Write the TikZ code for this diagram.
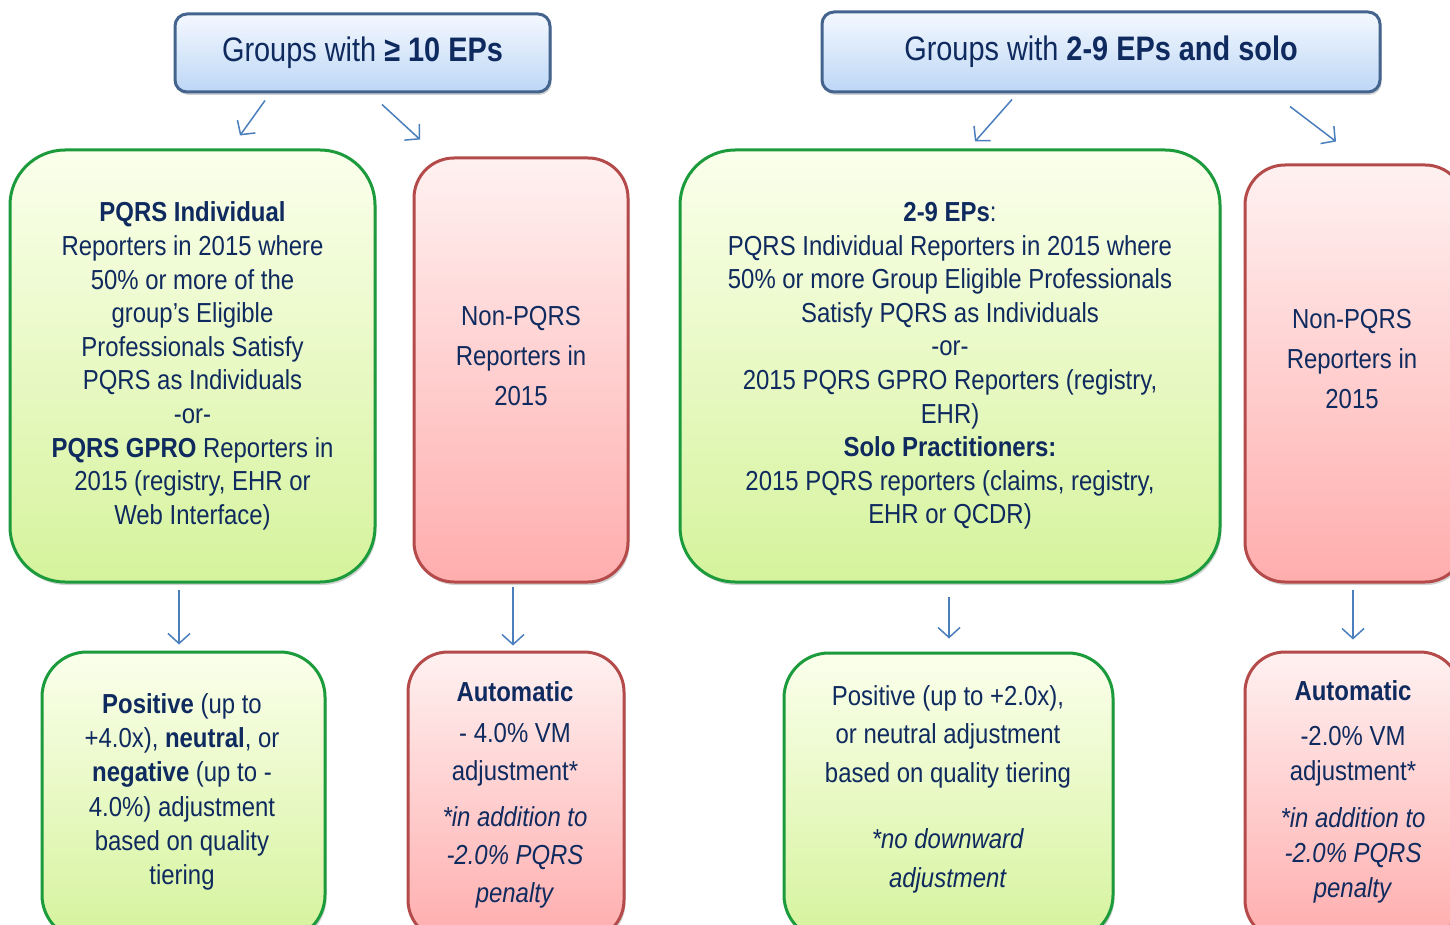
\documentclass[tikz,border=0pt]{standalone}
\usepackage{fontspec}
\setmainfont{Liberation Sans}[FakeStretch=0.87]
\newfontfamily\headfont{Liberation Sans}[FakeStretch=0.85]
\usetikzlibrary{arrows.meta,shadows}
\definecolor{Navy}{HTML}{0F2A5E}
\definecolor{HeadTop}{HTML}{F4F8FE}
\definecolor{HeadBot}{HTML}{BDD7F6}
\definecolor{HeadLine}{HTML}{44648E}
\definecolor{LeafTop}{HTML}{FBFFEC}
\definecolor{LeafBot}{HTML}{D5F39C}
\definecolor{LeafLine}{HTML}{1C9B3C}
\definecolor{RoseTop}{HTML}{FFF1F1}
\definecolor{RoseBot}{HTML}{FFADAD}
\definecolor{RoseLine}{HTML}{B54A4A}
\definecolor{Wire}{HTML}{4A7EBC}
\tikzset{
  boxbase/.style={draw,line width=3pt,inner sep=0pt,
    drop shadow={shadow xshift=1.5pt,shadow yshift=-3pt,opacity=.35}},
  headbox/.style={boxbase,rounded corners=12pt,draw=HeadLine,
    top color=HeadTop,bottom color=HeadBot,text=Navy,
    font=\headfont\fontsize{34}{40}\selectfont},
  leafbox/.style={boxbase,draw=LeafLine,top color=LeafTop,bottom color=LeafBot,
    text=Navy,align=center},
  rosebox/.style={boxbase,draw=RoseLine,top color=RoseTop,bottom color=RoseBot},
  txt/.style={text=Navy,align=center},
  link/.style={draw=Wire,line width=1.5pt,-{Straight Barb[length=10pt,width=22pt]}}
}
\newcommand{\bodyfont}[1]{\fontsize{27.5}{#1}\selectfont}

\begin{document}
\begin{tikzpicture}[x=1pt,y=-1pt]
  \path[fill=white,use as bounding box] (0,0) rectangle (1450,925);
  \clip (0,0) rectangle (1450,925);

  % headers
  \node[headbox,minimum width=375pt,minimum height=78pt] (h1) at (362.5,53)
    {Groups with \textbf{≥ 10 EPs}};
  \node[headbox,minimum width=558pt,minimum height=80pt] (h2) at (1101,52)
    {Groups with \textbf{2-9 EPs and solo}};

  % middle row
  \node[leafbox,rounded corners=55pt,minimum width=365pt,minimum height=432pt,
        font=\bodyfont{33.6}] (g1) at (192.5,366)
    {\textbf{PQRS Individual}\\ Reporters in 2015 where\\ 50\% or more of the\\
     group’s Eligible\\ Professionals Satisfy\\ PQRS as Individuals\\ -or-\\
     \textbf{PQRS GPRO} Reporters in\\ 2015 (registry, EHR or\\ Web Interface)};
  \node[rosebox,rounded corners=40pt,minimum width=214pt,minimum height=424pt] (r1) at (521,370) {};
  \node[txt,font=\bodyfont{40}] (r1t) at (521,356) {Non-PQRS\\ Reporters in\\ 2015};
  \node[leafbox,rounded corners=55pt,minimum width=540pt,minimum height=432pt,
        font=\bodyfont{33.6}] (g2) at (950,366)
    {\textbf{2-9 EPs}:\\ PQRS Individual Reporters in 2015 where\\
     50\% or more Group Eligible Professionals\\ Satisfy PQRS as Individuals\\ -or-\\
     2015 PQRS GPRO Reporters (registry,\\ EHR)\\ \textbf{Solo Practitioners:}\\
     2015 PQRS reporters (claims, registry,\\ EHR or QCDR)};
  \node[rosebox,rounded corners=40pt,minimum width=220pt,minimum height=417pt] (r2) at (1355,373.5) {};
  \node[txt,font=\bodyfont{40}] (r2t) at (1352,359) {Non-PQRS\\ Reporters in\\ 2015};

  % bottom row
  \node[leafbox,rounded corners=45pt,minimum width=283pt,minimum height=288pt] (b1) at (183.5,796) {};
  \node[txt,font=\bodyfont{34.3}] (b1t) at (182,792)
    {\textbf{Positive} (up to\\ +4.0x), \textbf{neutral}, or\\ \textbf{negative} (up to -\\
     4.0\%) adjustment\\ based on quality\\ tiering};
  \node[rosebox,rounded corners=40pt,minimum width=216pt,minimum height=288pt] (b2) at (516,796) {};
  \node[txt,font=\bodyfont{38}] (b2t) at (515,795)
    {\textbf{Automatic}\\[3pt] - 4.0\% VM\\ adjustment*\\[8pt] \textit{*in addition to}\\
     \textit{-2.0\% PQRS}\\ \textit{penalty}};
  \node[leafbox,rounded corners=45pt,minimum width=329pt,minimum height=287pt] (b3) at (948.5,796.5) {};
  \node[txt,font=\bodyfont{38.5}] (b3t) at (948,789)
    {Positive (up to +2.0x),\\ or neutral adjustment\\ based on quality tiering\\[28pt]
     \textit{*no downward}\\ \textit{adjustment}};
  \node[rosebox,rounded corners=40pt,minimum width=215pt,minimum height=288pt] (b4) at (1352.5,796) {};
  \node[txt,font=\bodyfont{35}] (b4t) at (1353,792)
    {\textbf{Automatic}\\[10pt] -2.0\% VM\\ adjustment*\\[12pt] \textit{*in addition to}\\
     \textit{-2.0\% PQRS}\\ \textit{penalty}};

  % connectors
  \draw[link] ([shift={(-97.5,7)}]h1.south) -- ([shift={(47.5,-13)}]g1.north);
  \draw[link] ([shift={(19.5,11)}]h1.south) -- ([shift={(-101,-17)}]r1.north);
  \draw[link] ([shift={(-89,6)}]h2.south) -- ([shift={(25,-7)}]g2.north);
  \draw[link] ([shift={(189,13)}]h2.south) -- ([shift={(-19,-22)}]r2.north);
  \draw[link] ([shift={(-13.5,6)}]g1.south) -- ([shift={(-4.5,-6)}]b1.north);
  \draw[link] ([shift={(-8,3)}]r1.south) -- ([shift={(-3,-5)}]b2.north);
  \draw[link] ([shift={(-1,13)}]g2.south) -- ([shift={(0.5,-13)}]b3.north);
  \draw[link] ([shift={(-2,6)}]r2.south) -- ([shift={(0.5,-11)}]b4.north);
\end{tikzpicture}
\end{document}
